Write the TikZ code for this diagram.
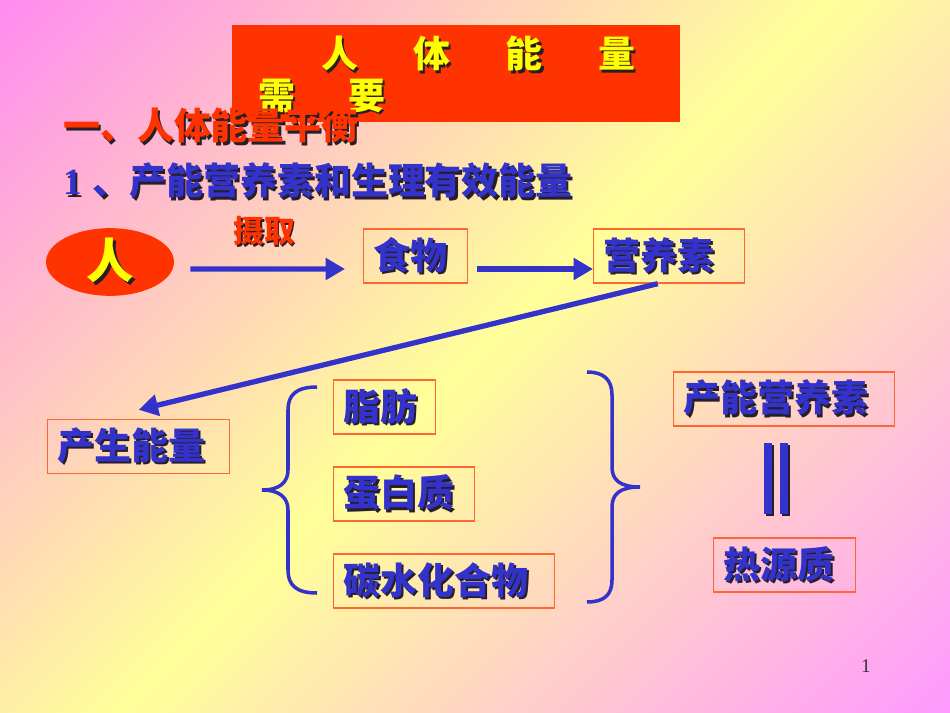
\documentclass[tikz,border=0pt]{standalone}
\usepackage{fontspec}
\setmainfont{Liberation Serif}
\newfontfamily\cjk{Noto Sans CJK SC}
\usepackage{tikz}
\usetikzlibrary{shapes.geometric,arrows.meta}

\definecolor{slideblue}{RGB}{51,51,204}
\definecolor{slidered}{RGB}{255,51,0}
\definecolor{slideyellow}{RGB}{255,255,0}
\definecolor{boxline}{RGB}{255,102,51}
\definecolor{textshade}{RGB}{40,30,40}
\definecolor{bgpink}{RGB}{255,140,240}
\definecolor{bgpinkb}{RGB}{255,153,255}
\definecolor{bgyellow}{RGB}{255,255,153}

% text with a dark drop shadow
\newcommand{\shtext}[2]{\leavevmode\rlap{\kern0.06em\raisebox{-0.06em}{\color{textshade}#2}}{\color{#1}#2}}

\tikzset{
  word/.style={font=\cjk\bfseries\fontsize{21}{25}\selectfont, inner sep=0pt},
  itembox/.style={word, draw=boxline, line width=0.8pt, inner xsep=0.2cm,
    minimum height=1.08cm, align=left, anchor=west},
  arr/.style={draw=slideblue, line width=3pt, -{Triangle[length=11pt,width=12pt]}},
  brace/.style={draw=slideblue, line width=2pt},
}

\begin{document}
\begin{tikzpicture}[x=0.02cm,y=-0.02cm]
  \useasboundingbox (0,0) rectangle (950,713);
  \begin{scope}
    \clip (0,0) rectangle (950,713);
    \shade[top color=bgpink, bottom color=bgpinkb, middle color=bgyellow, shading angle=45]
      (-113,-231.5) rectangle (1063,944.5);
  \end{scope}

  % title
  \node[fill=slidered, minimum width=8.96cm, minimum height=1.94cm, inner sep=0pt] (titlebox) at (456,73.5) {};
  \node[word, anchor=west] (title1) at (321,55) {\shtext{slideyellow}{人\hspace{1.5em}体\hspace{1.5em}能\hspace{1.5em}量}};
  \node[word, anchor=west] (title2) at (258,97) {\shtext{slideyellow}{需\hspace{1.45em}要}};

  \node[word, anchor=west] (head1) at (63,127) {\shtext{slidered}{一、人体能量平衡}};
  \node[word, anchor=west] (head2) at (63,182) {\shtext{slideblue}{{\rmfamily 1}\hspace{0.3em}、产能营养素和生理有效能量}};

  % first row
  \node[ellipse, fill=slidered, minimum width=2.56cm, minimum height=1.24cm, inner sep=0pt,
    font=\cjk\bfseries\fontsize{27}{30}\selectfont] (ren) at (110,262) {\shtext{slideyellow}{人}};
  \node[itembox, text width=1.68cm] (food) at (363,256) {\shtext{slideblue}{食物}};
  \node[itembox, text width=2.62cm] (nutr) at (593,256) {\shtext{slideblue}{营养素}};
  \node[word, font=\cjk\bfseries\fontsize{17.5}{20}\selectfont] (take) at (264,232) {\shtext{slidered}{摄取}};

  \draw[arr] ([xshift=0.32cm,yshift=-0.14cm]ren.east) -- ([xshift=-0.36cm,yshift=-0.26cm]food.west);
  \draw[arr] ([xshift=0.18cm,yshift=-0.26cm]food.east) -- ([yshift=-0.26cm]nutr.west);

  \node[itembox, text width=3.24cm] (energy) at (47,446.5) {\shtext{slideblue}{产生能量}};
  \draw[arr] ([xshift=-0.23cm]nutr.south) -- ([yshift=0.18cm]energy.north);

  % the three nutrients
  \node[itembox, text width=1.64cm] (fat) at (333,407) {\shtext{slideblue}{脂肪}};
  \node[itembox, text width=2.42cm] (protein) at (333,494) {\shtext{slideblue}{蛋白质}};
  \node[itembox, text width=4.02cm] (carb) at (333,581) {\shtext{slideblue}{碳水化合物}};

  \draw[brace] (317,387) .. controls (296,387) and (288,395) .. (288,410) -- (288,470)
    .. controls (288,482) and (280,490) .. (262,490)
    .. controls (280,490) and (288,498) .. (288,510) -- (288,570)
    .. controls (288,585) and (296,593) .. (317,593);
  \draw[brace] (587,372) .. controls (604,372) and (612,380) .. (612,395) -- (612,467)
    .. controls (612,480) and (620,487) .. (640,487)
    .. controls (620,487) and (612,494) .. (612,507) -- (612,580)
    .. controls (612,595) and (604,602) .. (587,602);

  \node[itembox, text width=4.02cm] (source) at (673,399) {\shtext{slideblue}{产能营养素}};
  \node[itembox, text width=2.44cm] (heat) at (713,565) {\shtext{slideblue}{热源质}};

  % equals sign
  \draw[textshade, line width=4.5pt] (770,445) -- (770,516) (786,445) -- (786,516);
  \draw[slideblue, line width=4.5pt] (768,443) -- (768,514) (784,443) -- (784,514);

  \node[font=\fontsize{11}{13}\selectfont, text=black!80] (pagenum) at (866,666) {1};
\end{tikzpicture}
\end{document}
